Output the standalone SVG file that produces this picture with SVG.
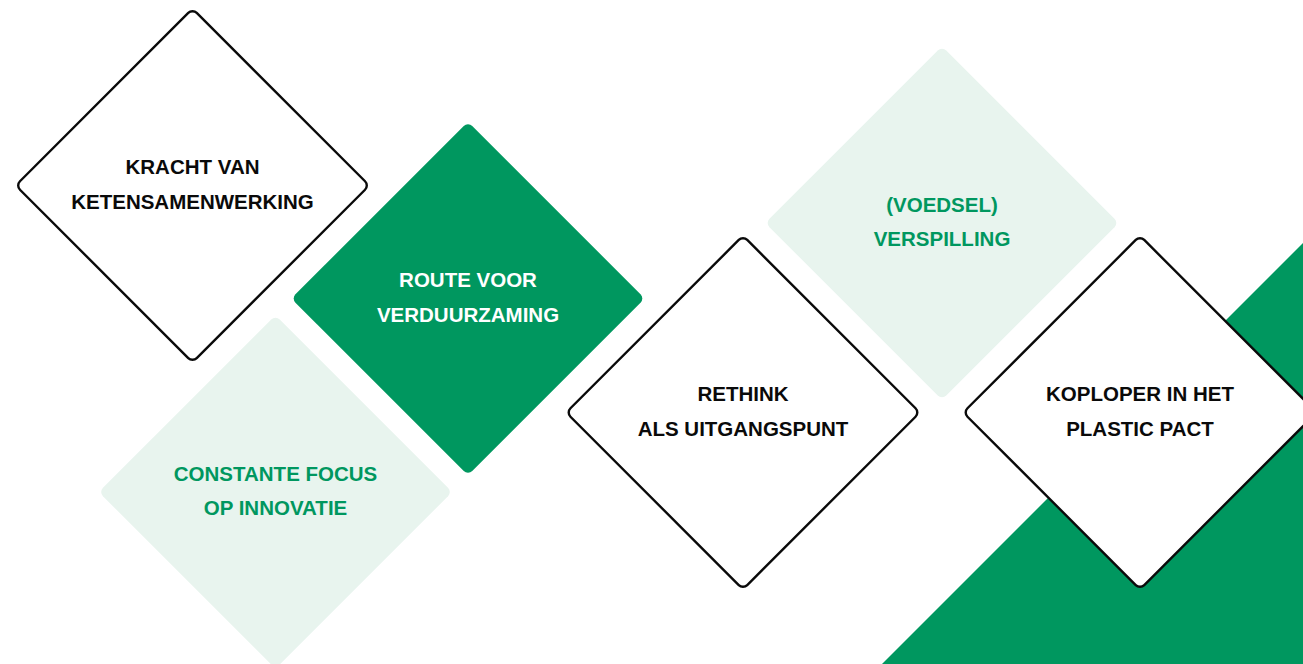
<svg xmlns="http://www.w3.org/2000/svg" width="1303" height="664" viewBox="0 0 1303 664">
<style>
.t{font-family:"Liberation Sans",Arial,sans-serif;font-weight:bold;font-size:20.5px;text-anchor:middle}
.outline{fill:#ffffff;stroke:#0a0a0a;stroke-width:2.4}
.solid{fill:#00975f}
.light{fill:#e8f4ee}
.tb{fill:#0a0a0a}
.tw{fill:#ffffff}
.tg{fill:#00975f}
</style>
<defs>
<rect id="d" x="-125" y="-125" width="250" height="250" rx="6" ry="6" transform="rotate(45)"/>
</defs>
<rect width="1303" height="664" fill="#ffffff"/>
<polygon id="bg-triangle" class="solid" points="882,664 1303,243 1303,664"/>
<g id="connectors"></g>
<g id="n-constante" transform="translate(275.5,492)">
<use href="#d" class="light"/>
<text class="t tg" x="0" y="-11.5">CONSTANTE FOCUS</text>
<text class="t tg" x="0" y="23">OP INNOVATIE</text>
</g>
<g id="n-voedsel" transform="translate(942,223)">
<use href="#d" class="light"/>
<text class="t tg" x="0" y="-11.5">(VOEDSEL)</text>
<text class="t tg" x="0" y="23">VERSPILLING</text>
</g>
<g id="n-route" transform="translate(468,298.5)">
<use href="#d" class="solid"/>
<text class="t tw" x="0" y="-11.5">ROUTE VOOR</text>
<text class="t tw" x="0" y="23">VERDUURZAMING</text>
</g>
<g id="n-kracht" transform="translate(192.5,185.5)">
<use href="#d" class="outline"/>
<text class="t tb" x="0" y="-11.5">KRACHT VAN</text>
<text class="t tb" x="0" y="23">KETENSAMENWERKING</text>
</g>
<g id="n-rethink" transform="translate(743,412.5)">
<use href="#d" class="outline"/>
<text class="t tb" x="0" y="-11.5">RETHINK</text>
<text class="t tb" x="0" y="23">ALS UITGANGSPUNT</text>
</g>
<g id="n-koploper" transform="translate(1140,412.5)">
<use href="#d" class="outline"/>
<text class="t tb" x="0" y="-11.5">KOPLOPER IN HET</text>
<text class="t tb" x="0" y="23">PLASTIC PACT</text>
</g>
</svg>
